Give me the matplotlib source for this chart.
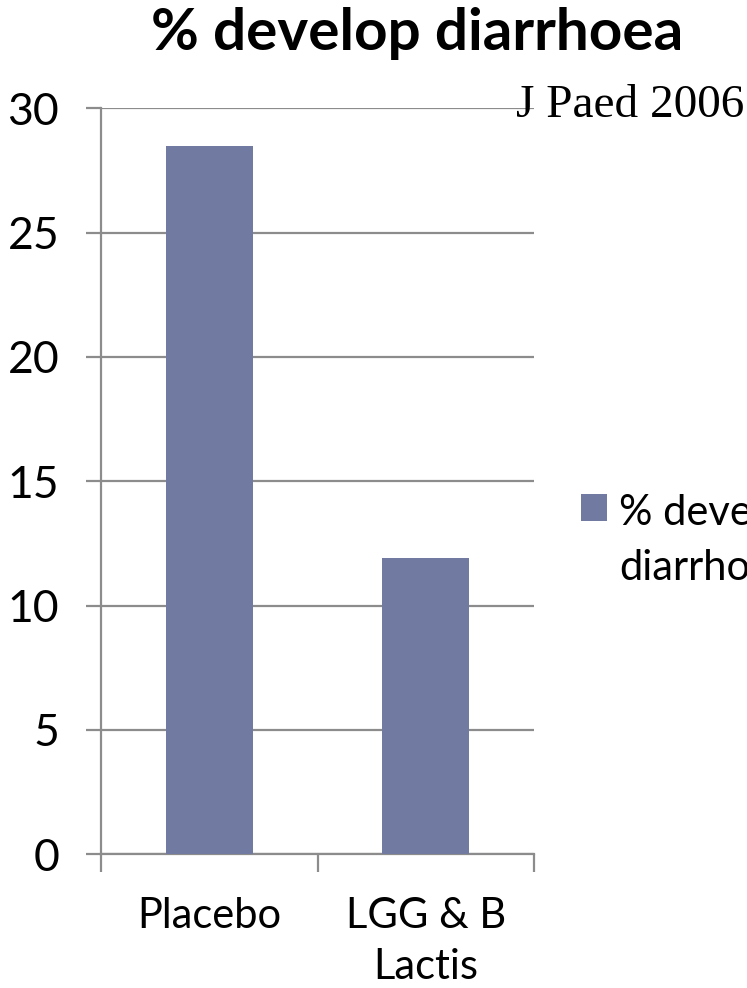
import matplotlib
matplotlib.use("Agg")
import matplotlib.pyplot as plt
import numpy as np

# Data
categories = ["Placebo", "LGG & B\nLactis"]
values = [28.5, 11.9]
series_name = "% develop\ndiarrhoea"
title = "% develop diarrhoea"
source = "J Paed 2006"
y_ticks = [0, 5, 10, 15, 20, 25, 30]

BAR = "#717ba1"
GRID = "#8c8c8c"
SANS = ["Lato", "DejaVu Sans"]

plt.rcParams["font.family"] = SANS

fig = plt.figure(figsize=(7.47, 9.88), dpi=100)
ax = fig.add_axes([101 / 747, 1 - 854.3 / 988, (534 - 101) / 747, (854.3 - 108.3) / 988])

x = np.arange(len(categories))
bars = ax.bar(x, values, width=0.4, color=BAR, label=series_name, zorder=3)

ax.set_xlim(-0.5, len(categories) - 0.5)
ax.set_ylim(0, 30)

# Gridlines and axis styling
ax.set_yticks(y_ticks)
ax.yaxis.grid(True, color=GRID, linewidth=1.6, zorder=0)
ax.tick_params(axis="y", length=11, width=1.6, color=GRID, pad=19, labelsize=32)
for side in ("top", "right"):
    ax.spines[side].set_visible(False)
for side in ("left", "bottom"):
    ax.spines[side].set_color(GRID)
    ax.spines[side].set_linewidth(1.6)

# Category boundaries as major ticks, labels on minor ticks at bar centres
ax.set_xticks(np.arange(-0.5, len(categories), 1.0))
ax.set_xticklabels([])
ax.set_xticks(x, minor=True)
ax.set_xticklabels(categories, minor=True, fontsize=30, linespacing=1.4)
ax.tick_params(axis="x", which="major", length=13, width=1.6, color=GRID)
ax.tick_params(axis="x", which="minor", length=0, pad=31)

# Title and source note
fig.text(417 / 747, 1 - 50 / 988, title, ha="center", va="baseline",
         fontsize=42, fontweight="bold", family=SANS)
fig.text(744 / 747, 1 - 117 / 988, source, ha="right", va="baseline",
         fontsize=34, family=["Liberation Serif", "DejaVu Serif"])

# Legend on the right, partly running past the figure edge
leg = fig.legend(handles=[bars], labels=[series_name], loc="upper left",
                 bbox_to_anchor=(581 / 747, 1 - 494 / 988), frameon=False,
                 fontsize=30, handlelength=0.62, handleheight=0.62,
                 handletextpad=0.3, borderpad=0, borderaxespad=0)
leg.get_texts()[0].set_linespacing(1.55)
for col in leg._legend_handle_box.get_children():
    for row in col.get_children():
        row.align = "top"

fig.savefig("out.png", dpi=100)
